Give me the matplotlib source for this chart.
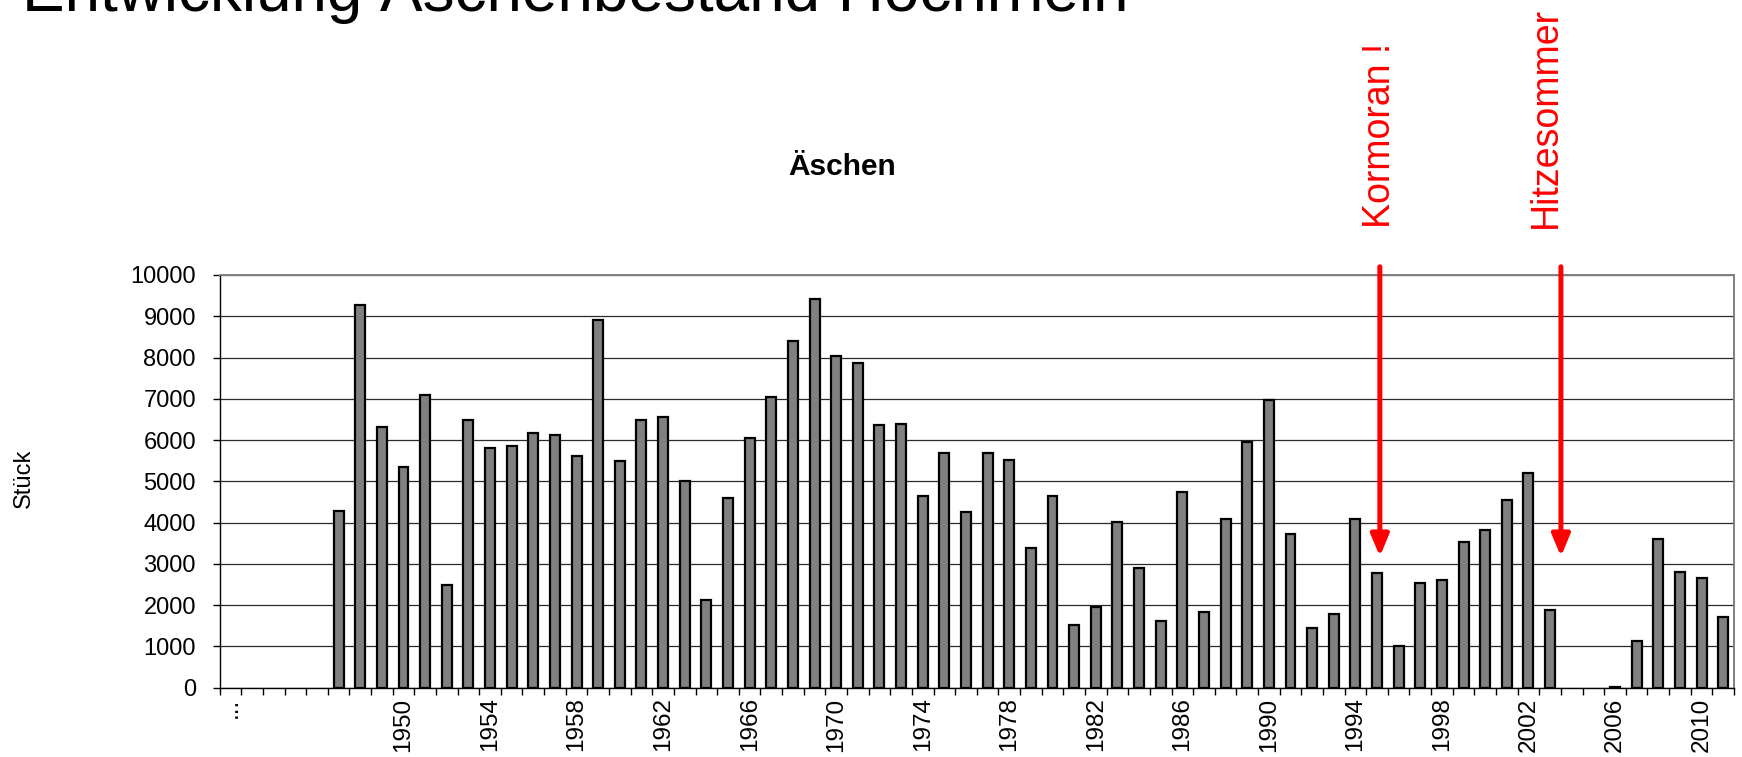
import numpy as np
import matplotlib
matplotlib.use("Agg")
import matplotlib.pyplot as plt

plt.rcParams['font.family'] = ['Liberation Sans', 'DejaVu Sans']

# ---- data ----
years = list(range(1942, 2012))
values = [np.nan, np.nan, np.nan, np.nan, np.nan,           # 1942-1946
          4290, 9270, 6310, 5340, 7090, 2490, 6490, 5800, 5860, 6160,   # 1947-1956
          6120, 5610, 8910, 5490, 6480, 6560, 5000, 2120, 4600, 6040,   # 1957-1966
          7050, 8400, 9430, 8040, 7860, 6360, 6390, 4640, 5690, 4260,   # 1967-1976
          5690, 5520, 3390, 4640, 1510, 1960, 4010, 2890, 1610, 4730,   # 1977-1986
          1840, 4080, 5960, 6960, 3720, 1440, 1790, 4090, 2790, 1020,   # 1987-1996
          2530, 2620, 3530, 3820, 4560, 5200, 1890, 0, 0, 25,           # 1997-2006
          1140, 3610, 2810, 2660, 1710]                                 # 2007-2011
tick_labels = {0: '...', 4: ''}
label_step = 4
yticks = list(range(0, 10001, 1000))
title = 'Entwicklung Äschenbestand Hochrhein'
subtitle = 'Äschen'
ylabel = 'Stück'
events = [('Kormoran !', 1995), ('Hitzesommer', 2003)]

W, H = 1742, 757
fig = plt.figure(figsize=(W / 100, H / 100), dpi=100)
ax = fig.add_axes([219.6 / W, 1 - 687.7 / H, (1734 - 219.6) / W, (687.7 - 275) / H])

x = np.arange(len(years))
lws = [0 if (v == 0) else 1.6 for v in values]
ax.bar(x, values, width=0.46, color='#808080', edgecolor='black', linewidth=lws, zorder=3)

ax.set_xlim(-0.5, len(years) - 0.5)
ax.set_ylim(0, 10000)
ax.set_yticks(yticks)
ax.set_yticklabels([str(v) for v in yticks], fontsize=17)
ax.yaxis.grid(True, color='#2a2a2a', linewidth=0.9, zorder=1)
ax.set_axisbelow(True)

major = list(range(0, len(years), label_step))
labels = [tick_labels.get(i, str(years[i])) for i in major]
ax.set_xticks(major)
ax.set_xticklabels(labels, rotation=90, fontsize=17.5, va='top', ha='center')
ax.set_xticks(np.arange(-0.5, len(years) + 0.5, 1), minor=True)
ax.tick_params(axis='x', which='major', length=0, pad=7)
ax.tick_params(axis='x', which='minor', length=5, width=1, direction='out', color='black')
ax.tick_params(axis='y', length=5, width=1, direction='out', pad=12, color='black')

for s in ['top', 'right']:
    ax.spines[s].set_color('#808080')
    ax.spines[s].set_linewidth(1.4)
for s in ['left', 'bottom']:
    ax.spines[s].set_color('black')
    ax.spines[s].set_linewidth(1.0)

ax.set_ylabel(ylabel, fontsize=17)
ax.yaxis.label.set_verticalalignment('center')
ax.yaxis.set_label_coords(-(219.6 - 24) / (1734 - 219.6), (687.7 - 478) / (687.7 - 275))

fig.text(842 / W, 1 - 167 / H, subtitle, fontsize=21.5, fontweight='bold', ha='center', va='center')
fig.text(22 / W, 1 - 11 / H, title, fontsize=46, ha='left', va='baseline')

# event arrows and labels
arrow_off = {'Kormoran !': 0.13, 'Hitzesommer': 0.5}
text_off = {'Kormoran !': 0.15, 'Hitzesommer': -0.2}
for name, yr in events:
    i = years.index(yr)
    xa = i + arrow_off[name]
    ax.annotate('', xy=(xa, 3180), xytext=(xa, 10200), annotation_clip=False,
                arrowprops=dict(arrowstyle='-|>,head_length=1.0,head_width=0.42',
                                mutation_scale=13, color='red', lw=3.6,
                                shrinkA=0, shrinkB=0), zorder=5)
    ax.text(i + text_off[name], 11140, name, rotation=90, color='red', fontsize=27,
            ha='center', va='bottom', clip_on=False)

fig.savefig('out.png', dpi=100)
